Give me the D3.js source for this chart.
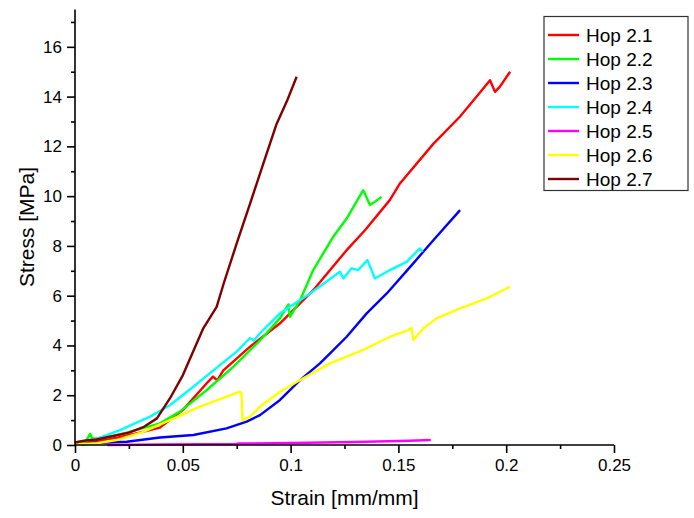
<!DOCTYPE html>
<html><head><meta charset="utf-8">
<script src="https://cdn.jsdelivr.net/npm/d3@7"></script>
<style>body{margin:0;background:#fff;}svg{display:block;font-family:"Liberation Sans",Arial,sans-serif;}</style>
</head><body><svg id="c" width="694" height="518"></svg>
<script>
const seriesNames = ["Hop 2.1","Hop 2.2","Hop 2.3","Hop 2.4","Hop 2.5","Hop 2.6","Hop 2.7"];
const seriesColors = ["#ff0000","#00ff00","#0000ff","#00ffff","#ff00ff","#ffff00","#800000"];
const hop21 = [[0,0.05],[0.01,0.15],[0.02,0.3],[0.03,0.5],[0.0394,0.7],[0.05,1.4],[0.0611,2.48],[0.064,2.75],[0.066,2.6],[0.0688,3.0],[0.0812,3.95],[0.0951,4.89],[0.1105,6.22],[0.126,7.83],[0.1345,8.63],[0.146,9.84],[0.1507,10.51],[0.1662,12.1],[0.1786,13.2],[0.1863,14.0],[0.1925,14.66],[0.1948,14.19],[0.1971,14.4],[0.2018,15.0]];
const hop22 = [[0,0.1],[0.005,0.15],[0.007,0.45],[0.008,0.25],[0.015,0.3],[0.024,0.5],[0.0394,0.87],[0.0487,1.34],[0.061,2.2],[0.0734,3.14],[0.0858,4.2],[0.0951,5.1],[0.099,5.65],[0.0997,5.15],[0.1044,5.82],[0.1105,7.03],[0.1198,8.37],[0.126,9.1],[0.1337,10.24],[0.1368,9.64],[0.1395,9.8],[0.1422,9.97]];
const hop23 = [[0.003,0.02],[0.007,0.07],[0.015,0.1],[0.024,0.13],[0.0394,0.3],[0.0549,0.4],[0.0703,0.67],[0.0796,0.94],[0.0858,1.2],[0.0951,1.81],[0.1044,2.61],[0.1136,3.28],[0.1183,3.68],[0.126,4.35],[0.1353,5.29],[0.1446,6.09],[0.1569,7.3],[0.1662,8.23],[0.1786,9.44]];
const hop24 = [[0,0.1],[0.01,0.25],[0.0209,0.6],[0.0348,1.14],[0.044,1.6],[0.0549,2.34],[0.0642,3.0],[0.075,3.75],[0.0812,4.3],[0.083,4.2],[0.0858,4.49],[0.0951,5.29],[0.109,6.09],[0.1229,6.96],[0.1245,6.69],[0.1283,7.1],[0.1314,7.03],[0.1356,7.43],[0.1391,6.69],[0.1461,7.03],[0.1538,7.36],[0.16,7.9],[0.1612,7.76]];
const hop25 = [[0.015,0.0],[0.04,0.02],[0.075,0.04],[0.076,0.06],[0.1,0.08],[0.13,0.12],[0.155,0.17],[0.165,0.2]];
const hop26 = [[0,0.02],[0.01,0.07],[0.0193,0.2],[0.0317,0.53],[0.044,1.0],[0.058,1.54],[0.0703,1.94],[0.0765,2.14],[0.0772,2.1],[0.0777,1.0],[0.0812,1.14],[0.0858,1.54],[0.0951,2.14],[0.1044,2.61],[0.1183,3.28],[0.1337,3.82],[0.1461,4.35],[0.1546,4.62],[0.1561,4.7],[0.1569,4.22],[0.1616,4.69],[0.1677,5.09],[0.1786,5.49],[0.191,5.89],[0.2018,6.36]];
const hop27 = [[0,0.1],[0.005,0.18],[0.01,0.22],[0.016,0.33],[0.025,0.5],[0.032,0.73],[0.038,1.07],[0.044,1.87],[0.05,2.8],[0.055,3.8],[0.0595,4.69],[0.0657,5.55],[0.069,6.5],[0.075,8.1],[0.0812,9.7],[0.0873,11.3],[0.0935,12.9],[0.0982,13.8],[0.1028,14.8]];
const seriesData = [hop21,hop22,hop23,hop24,hop25,hop26,hop27];
const xTicks = [0,0.05,0.1,0.15,0.2,0.25];
const xTickLabels = ["0","0.05","0.1","0.15","0.2","0.25"];
const yTicks = [0,2,4,6,8,10,12,14,16];
const xTitle = "Strain [mm/mm]";
const yTitle = "Stress [MPa]";

const svg = d3.select("#c");
const x = d3.scaleLinear().domain([0,0.25]).range([75,614]);
const y = d3.scaleLinear().domain([0,17.5]).range([445,9.5]);

const line = d3.line().x(d=>x(d[0])).y(d=>y(d[1]));
const g = svg.append("g");
seriesData.forEach((d,i)=>{
  g.append("path").attr("d",line(d)).attr("fill","none")
   .attr("stroke",seriesColors[i]).attr("stroke-width",2.4).attr("stroke-linejoin","round");
});

// axes
const xAx = svg.append("g").attr("transform","translate(0,445)")
  .call(d3.axisBottom(x).tickValues(xTicks).tickFormat((d,i)=>xTickLabels[i]).tickSize(8).tickPadding(6));
const xMinor = svg.append("g").attr("transform","translate(0,445)")
  .call(d3.axisBottom(x).tickValues(d3.range(0.025,0.25,0.05)).tickFormat("").tickSize(4));
const yAx = svg.append("g").attr("transform","translate(75,0)")
  .call(d3.axisLeft(y).tickValues(yTicks).tickSize(8).tickPadding(5));
const yMinor = svg.append("g").attr("transform","translate(75,0)")
  .call(d3.axisLeft(y).tickValues(d3.range(1,18,2)).tickFormat("").tickSize(4));
[xAx,xMinor,yAx,yMinor].forEach(a=>{
  a.select(".domain").attr("stroke","#000").attr("stroke-width",1.6);
  a.selectAll(".tick line").attr("stroke","#000").attr("stroke-width",1.6);
  a.selectAll(".tick text").attr("fill","#000").attr("font-size",17).attr("font-family","Liberation Sans, Arial, sans-serif");
});
xMinor.select(".domain").remove(); yMinor.select(".domain").remove();
xAx.select(".domain").attr("d","M75,0H614");
yAx.select(".domain").attr("d","M0,445V9.5");

svg.append("text").attr("x",344.5).attr("y",505).attr("text-anchor","middle")
  .attr("font-size",21).attr("fill","#000").text(xTitle);
svg.append("text").attr("transform","translate(34,227) rotate(-90)").attr("text-anchor","middle")
  .attr("font-size",21).attr("fill","#000").text(yTitle);

// legend
const lg = svg.append("g");
lg.append("rect").attr("x",544).attr("y",16.5).attr("width",144).attr("height",174)
  .attr("fill","#fff").attr("stroke","#333").attr("stroke-width",1.2);
seriesNames.forEach((n,i)=>{
  const yy = 35 + i*24;
  lg.append("line").attr("x1",548).attr("x2",579).attr("y1",yy).attr("y2",yy)
    .attr("stroke",seriesColors[i]).attr("stroke-width",2.4);
  lg.append("text").attr("x",586).attr("y",yy).attr("dy","0.35em")
    .attr("font-size",19).attr("fill","#000").text(n);
});
</script></body></html>
